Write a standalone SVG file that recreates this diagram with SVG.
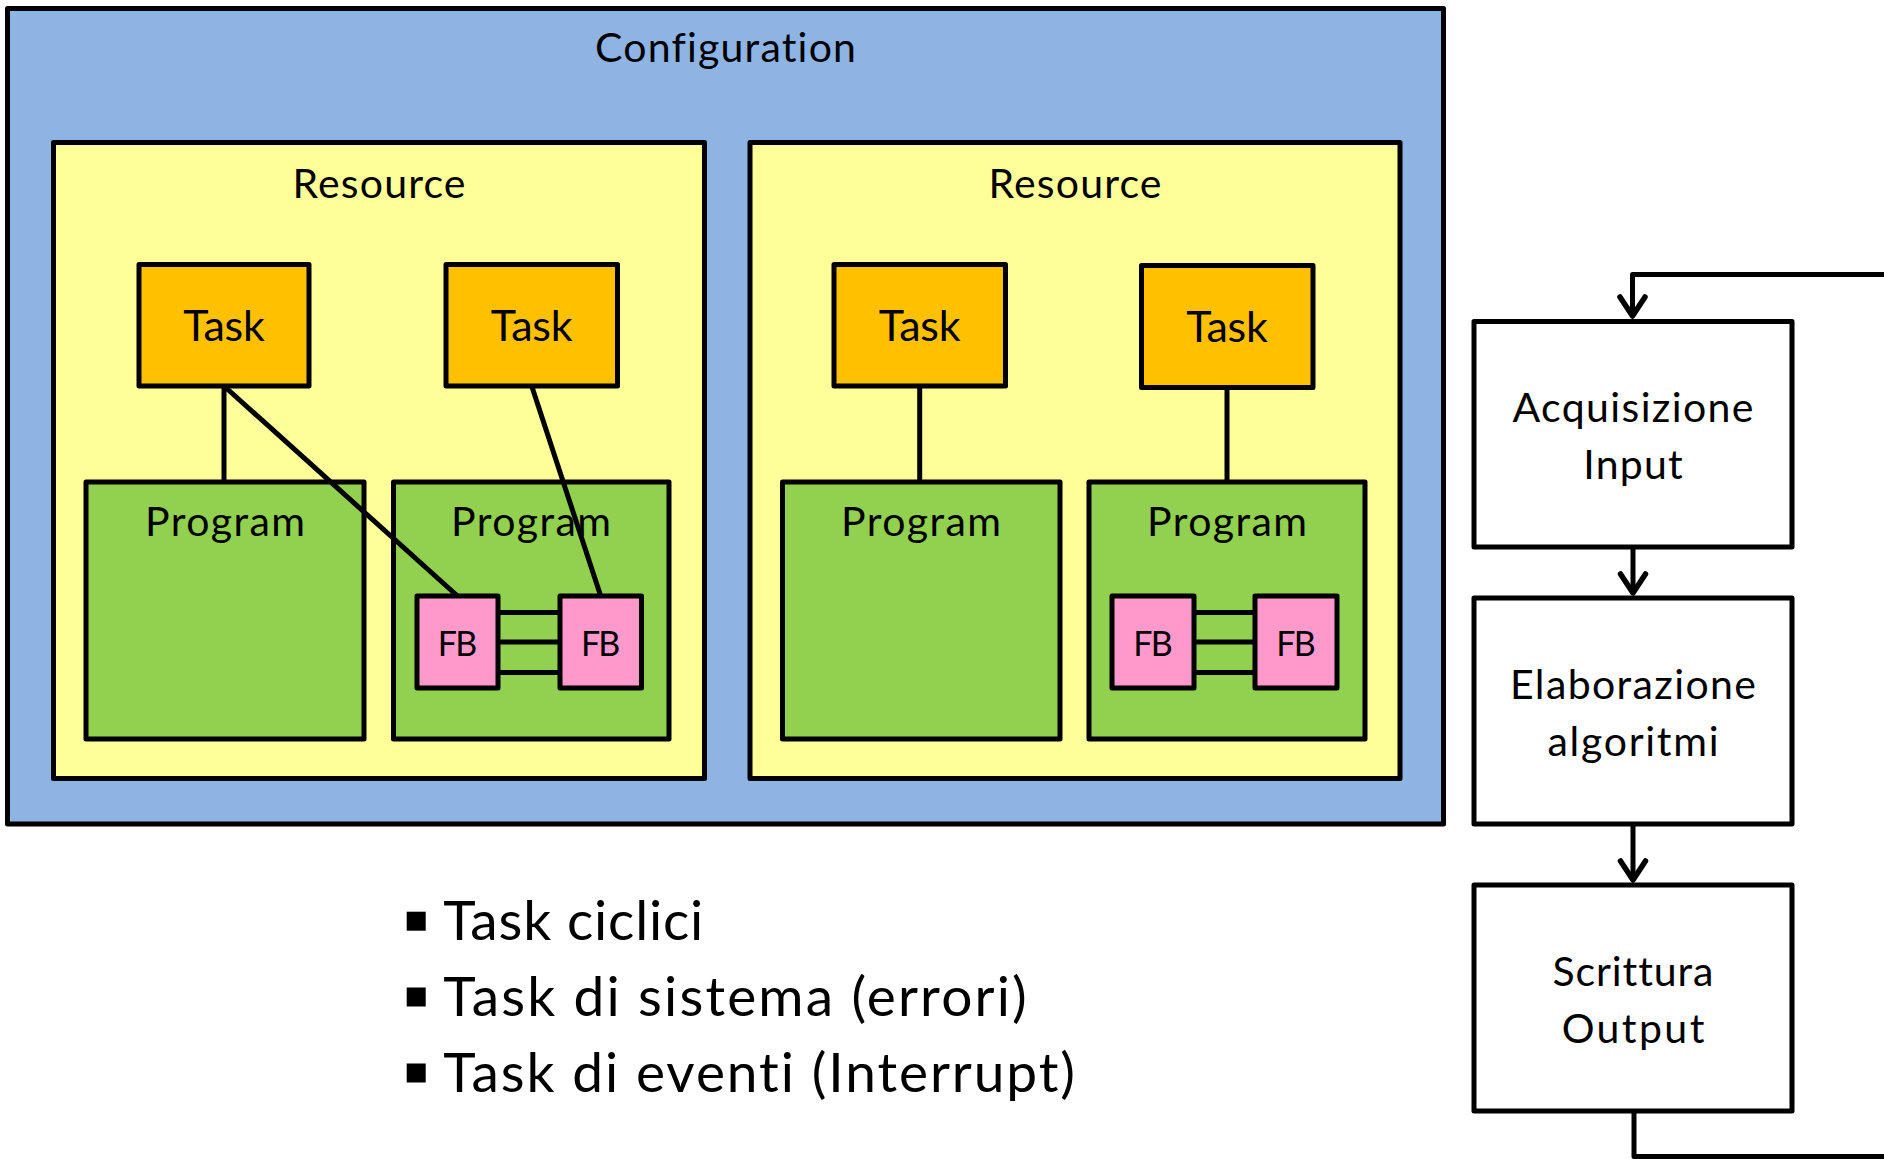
<svg xmlns="http://www.w3.org/2000/svg" width="1884" height="1159" viewBox="0 0 1884 1159">
<style>
rect{stroke:#000;stroke-width:5;stroke-linejoin:round}
.cfg{fill:#8EB4E3}
.res{fill:#FFFF99}
.task{fill:#FFC000}
.prog{fill:#92D050}
.fb{fill:#FF99CC}
.box{fill:#FFFFFF}
.bul{fill:#000;stroke:none}
text{font-family:Lato,"Liberation Sans",sans-serif;fill:#000;text-anchor:middle;font-variant-ligatures:none;font-feature-settings:"liga" 0,"clig" 0}
.lbl{font-size:41px}
.tsk{font-size:43px}
.fbt{font-size:34px}
.bt{font-size:55px;text-anchor:start}
.conn{stroke:#000;stroke-width:5;fill:none;stroke-linejoin:round}
</style>
<defs>
<marker id="arr" markerUnits="userSpaceOnUse" markerWidth="40" markerHeight="40" viewBox="-25 -20 30 40" refX="0" refY="0" orient="auto" overflow="visible">
<path d="M-19,-12.5 L0,0 L-19,12.5" fill="none" stroke="#000" stroke-width="5.5" stroke-linejoin="round" stroke-linecap="round"/>
</marker>
</defs>

<g id="configuration">
<rect class="cfg" x="7.5" y="8.5" width="1436" height="815.5"/>
<text class="lbl" x="725.5" y="62.3" textLength="261">Configuration</text>
</g>

<g id="resource1">
<rect class="res" x="53.5" y="142.5" width="651" height="636"/>
<text class="lbl" x="379" y="197.5" textLength="173">Resource</text>
</g>
<g id="resource2">
<rect class="res" x="750" y="142.5" width="650" height="636"/>
<text class="lbl" x="1075" y="197.5" textLength="173">Resource</text>
</g>

<g id="program1">
<rect class="prog" x="86" y="482" width="278" height="257"/>
<text class="lbl" x="225" y="536" textLength="160">Program</text>
</g>
<g id="program2">
<rect class="prog" x="393.5" y="482" width="275.5" height="257"/>
<text class="lbl" x="531" y="536" textLength="160">Program</text>
</g>
<g id="program3">
<rect class="prog" x="782.5" y="482" width="277.5" height="257"/>
<text class="lbl" x="921" y="536" textLength="160">Program</text>
</g>
<g id="program4">
<rect class="prog" x="1089" y="482" width="276" height="257"/>
<text class="lbl" x="1227" y="536" textLength="160">Program</text>
</g>

<g id="task1">
<rect class="task" x="139" y="264.5" width="170" height="121.5"/>
<text class="tsk" x="224" y="341" textLength="81.7">Task</text>
</g>
<g id="task2">
<rect class="task" x="446" y="264.5" width="171.5" height="121.5"/>
<text class="tsk" x="531.7" y="341" textLength="81.7">Task</text>
</g>
<g id="task3">
<rect class="task" x="834" y="264.5" width="171.5" height="121.5"/>
<text class="tsk" x="919.7" y="341" textLength="81.7">Task</text>
</g>
<g id="task4">
<rect class="task" x="1141.5" y="265.5" width="171.5" height="122"/>
<text class="tsk" x="1227" y="342" textLength="81.7">Task</text>
</g>

<g id="fb1">
<rect class="fb" x="417" y="596" width="81" height="92"/>
<text class="fbt" x="457.5" y="656" textLength="39.3">FB</text>
</g>
<g id="fb2">
<rect class="fb" x="560" y="596" width="81.5" height="92"/>
<text class="fbt" x="600.7" y="656" textLength="39.3">FB</text>
</g>
<g id="fb3">
<rect class="fb" x="1112" y="596" width="82" height="92"/>
<text class="fbt" x="1153" y="656" textLength="39.3">FB</text>
</g>
<g id="fb4">
<rect class="fb" x="1255" y="596" width="82" height="92"/>
<text class="fbt" x="1296" y="656" textLength="39.3">FB</text>
</g>

<g id="acquisizione">
<rect class="box" x="1474" y="321.5" width="318" height="225.5"/>
<text class="lbl" x="1633" y="421.7" textLength="241">Acquisizione</text>
<text class="lbl" x="1633" y="479.3" textLength="99.4">Input</text>
</g>
<g id="elaborazione">
<rect class="box" x="1474" y="598" width="318" height="226"/>
<text class="lbl" x="1633" y="699" textLength="246">Elaborazione</text>
<text class="lbl" x="1633" y="756" textLength="171">algoritmi</text>
</g>
<g id="scrittura">
<rect class="box" x="1474" y="885" width="318" height="226"/>
<text class="lbl" x="1633" y="986" textLength="161">Scrittura</text>
<text class="lbl" x="1633" y="1042.7" textLength="142.7">Output</text>
</g>

<g id="bullets">
<rect class="bul" x="406.7" y="911.7" width="19" height="19"/>
<rect class="bul" x="406.7" y="987.5" width="19" height="19"/>
<rect class="bul" x="406.7" y="1063.5" width="19" height="19"/>
<text class="bt" x="443.3" y="940" textLength="260">Task ciclici</text>
<text class="bt" x="443.3" y="1016" textLength="583.4">Task di sistema (errori)</text>
<text class="bt" x="443.3" y="1092.3" textLength="631.7">Task di eventi (Interrupt)</text>
</g>

<g id="connectors" class="conn">
<line x1="224" y1="386" x2="224" y2="482"/>
<line x1="224" y1="386" x2="457.5" y2="596"/>
<line x1="531.7" y1="386" x2="600.7" y2="596"/>
<line x1="919.7" y1="386" x2="919.7" y2="482"/>
<line x1="1227" y1="387.5" x2="1227" y2="482"/>
<line x1="498" y1="612.5" x2="560" y2="612.5"/>
<line x1="498" y1="642" x2="560" y2="642"/>
<line x1="498" y1="672.5" x2="560" y2="672.5"/>
<line x1="1194" y1="612.5" x2="1255" y2="612.5"/>
<line x1="1194" y1="642" x2="1255" y2="642"/>
<line x1="1194" y1="672.5" x2="1255" y2="672.5"/>
<path d="M1884,274.5 H1632.5 V316" marker-end="url(#arr)"/>
<path d="M1633,547 V593" marker-end="url(#arr)"/>
<path d="M1633,824 V880" marker-end="url(#arr)"/>
<path d="M1634,1111 V1156.5 H1884"/>
</g>
</svg>
